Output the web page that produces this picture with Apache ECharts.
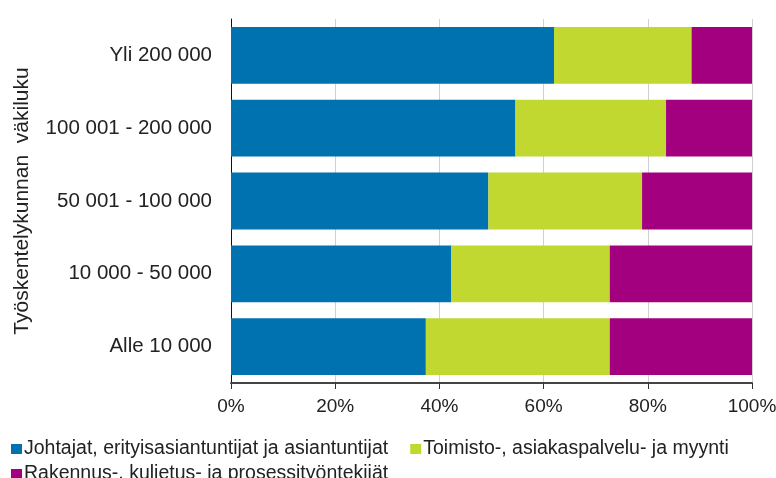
<!DOCTYPE html>
<html><head><meta charset="utf-8">
<script src="https://cdn.jsdelivr.net/npm/echarts@6/dist/echarts.min.js"></script>
<style>html,body{margin:0;padding:0;background:#fff}#c{width:776px;height:478px}</style>
</head><body><div id="c"></div>
<script>
const categories = ["Alle 10 000", "10 000 - 50 000", "50 001 - 100 000", "100 001 - 200 000", "Yli 200 000"];
const seriesNames = ["Johtajat, erityisasiantuntijat ja asiantuntijat", "Toimisto-, asiakaspalvelu- ja myynti", "Rakennus-, kuljetus- ja prosessityöntekijät"];
const johtajat = [37.4, 42.3, 49.4, 54.6, 62.0];
const toimisto = [35.3, 30.4, 29.5, 28.9, 26.4];
const rakennus = [27.3, 27.3, 21.1, 16.5, 11.6];
const colors = ["#0072b0", "#c1d830", "#a3007f"];
const xTicks = [0, 20, 40, 60, 80, 100];

const chart = echarts.init(document.getElementById('c'));
const font = "Liberation Sans, Arial, sans-serif";
const legendText = {fontSize: 19.5, color: '#222', fontFamily: font, padding: [0, 0, 0, -3]};
chart.setOption({
  animation: false,
  textStyle: {fontFamily: font},
  grid: {left: 231, right: 24, top: 19, bottom: 95, containLabel: false, outerBoundsMode: 'none'},
  legend: [
    {left: 6, top: 434, itemWidth: 11, itemHeight: 10, itemGap: 22, icon: 'rect',
     textStyle: legendText, data: seriesNames.slice(0, 2)},
    {left: 6, top: 459, itemWidth: 11, itemHeight: 10, itemGap: 22, icon: 'rect',
     textStyle: legendText, data: seriesNames.slice(2)}
  ],
  xAxis: {
    type: 'value', min: 0, max: 100, interval: 20,
    axisLine: {show: true, lineStyle: {color: '#444', width: 2}},
    axisTick: {show: true, length: 6, lineStyle: {color: '#333'}},
    axisLabel: {formatter: v => xTicks.includes(v) ? v + '%' : '', fontSize: 19, color: '#222', margin: 14},
    splitLine: {show: true, lineStyle: {color: '#d0d0d0', width: 1}}
  },
  yAxis: {
    type: 'category', data: categories,
    name: 'Työskentelykunnan  väkiluku', nameLocation: 'middle', nameGap: 198, nameRotate: 90,
    nameTextStyle: {fontSize: 21, color: '#222', fontFamily: font},
    axisLine: {show: true, lineStyle: {color: '#111', width: 1}},
    axisTick: {show: false},
    axisLabel: {fontSize: 20.5, color: '#222', margin: 19}
  },
  series: [johtajat, toimisto, rakennus].map((d, i) => ({
    name: seriesNames[i], type: 'bar', stack: 'all', data: d,
    barCategoryGap: '22%', itemStyle: {color: colors[i]}
  }))
});
</script></body></html>
